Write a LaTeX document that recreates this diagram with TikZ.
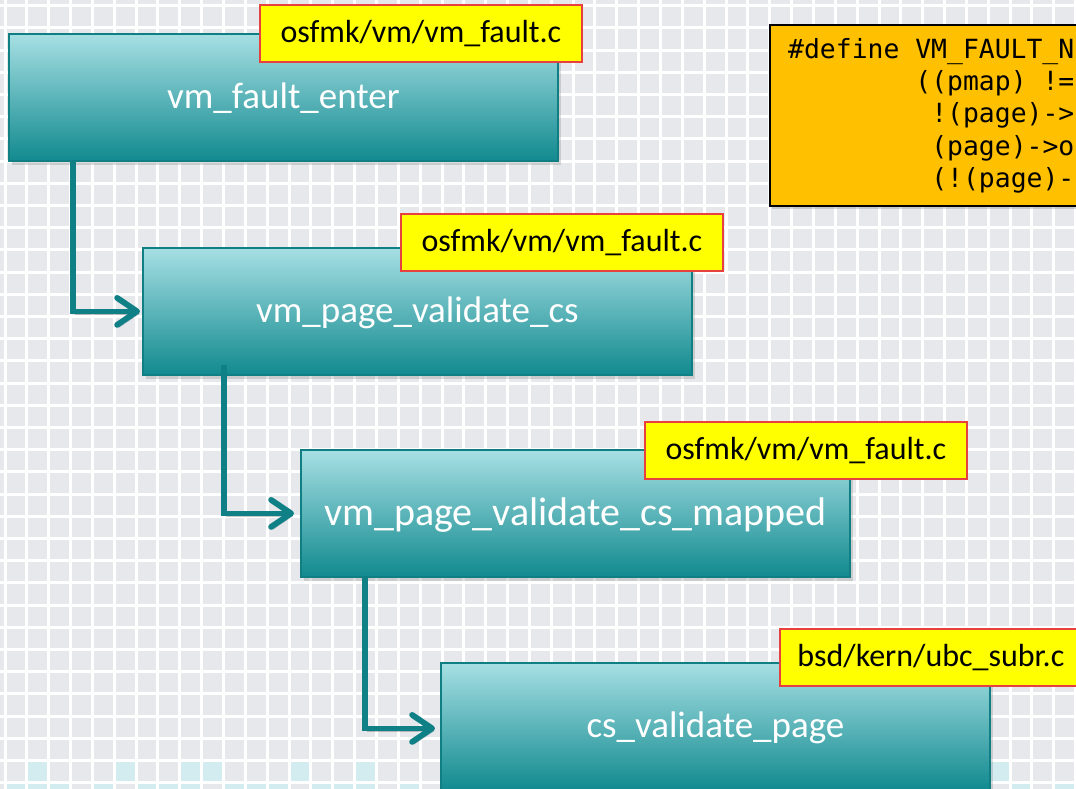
\documentclass[tikz,border=0pt]{standalone}
\usepackage{fontspec}
\setmainfont{Carlito}
\newfontfamily\codefont{DejaVu Sans Mono}
\usetikzlibrary{arrows.meta,shadows}

\definecolor{cellgray}{HTML}{E7E8EC}
\definecolor{cellcyan}{HTML}{D3ECF0}
\definecolor{tealtop}{HTML}{A6DFE3}
\definecolor{tealmid}{HTML}{76BEC2}
\definecolor{tealbot}{HTML}{118A8F}
\definecolor{tealedge}{HTML}{0F7F84}
\definecolor{tealline}{HTML}{0E8086}
\definecolor{tagyellow}{HTML}{FFFF00}
\definecolor{tagred}{HTML}{E8403F}
\definecolor{codeorange}{HTML}{FFC000}

\tikzset{
  fnbox/.style={
    draw=tealedge, line width=1.8pt,
    top color=tealtop, middle color=tealmid, bottom color=tealbot,
    minimum width=549pt, minimum height=127pt, inner sep=0pt,
    text height=30pt, text depth=7pt,
    anchor=north west, text=white,
    font=\fontsize{37}{44}\selectfont,
    drop shadow={opacity=0.28, shadow xshift=3pt, shadow yshift=-4pt}
  },
  srctag/.style={
    draw=tagred, line width=1.8pt, fill=tagyellow,
    minimum width=322pt, minimum height=57pt, inner sep=0pt,
    anchor=north west, text=black,
    font=\fontsize{32}{38}\selectfont
  },
  conn/.style={
    draw=tealline, line width=5.8pt,
    -{Straight Barb[length=20pt,width=27pt,round]},
    preaction={draw=black, opacity=0.22,
      transform canvas={xshift=2pt,yshift=-2.5pt}}
  },
  codeline/.style={anchor=base west, inner sep=0pt,
    font=\codefont\fontsize{26.4}{32}\selectfont}
}

\begin{document}
\begin{tikzpicture}[x=1pt,y=-1pt]
\useasboundingbox (0,0) rectangle (1076,789);
\clip (0,0) rectangle (1076,789);

% tiled background
\fill[cellgray] (0,0) rectangle (1076,789);
\foreach \c/\r in {1/34,5/34,8/34,9/34,13/34,16/34,45/34,
                   0/35,1/35,2/35,4/35,6/35,7/35,8/35,10/35,11/35,12/35,
                   14/35,15/35,16/35,18/35,46/35,48/35}
  \fill[cellcyan] ({5+21.85*\c},{5.7+22.2*\r}) rectangle ({5+21.85*(\c+1)},{5.7+22.2*(\r+1)});
\foreach \k in {0,...,49}
  \draw[white, line width=3pt] ({5+21.85*\k},0) -- ({5+21.85*\k},789);
\foreach \k in {0,...,35}
  \draw[white, line width=3pt] (0,{5.7+22.2*\k}) -- (1076,{5.7+22.2*\k});

% call chain
\node[fnbox] (b1) at (8,33) {vm\_fault\_enter};
\node[srctag] (t1) at (259,4) {osfmk/vm/vm\_fault.c};

\node[fnbox] (b2) at (142,247) {vm\_page\_validate\_cs};
\node[srctag] (t2) at (400,213) {osfmk/vm/vm\_fault.c};
\draw[conn] ([xshift=65pt]b1.south west) |- ([xshift=-2pt]b2.west);

\node[fnbox, font=\fontsize{40}{48}\selectfont, text height=31pt, text depth=7pt]
  (b3) at (300,449) {vm\_page\_validate\_cs\_mapped};
\node[srctag] (t3) at (644,421) {osfmk/vm/vm\_fault.c};
\draw[conn] ([xshift=82pt,yshift=11pt]b2.south west) |- ([xshift=-6pt]b3.west);

\node[fnbox] (b4) at (440,662) {cs\_validate\_page};
\node[srctag, minimum width=302pt] (t4) at (779,628) {bsd/kern/ubc\_subr.c};
\draw[conn] ([xshift=65pt]b3.south west) |- ([xshift=-5pt,yshift=-2pt]b4.west);

% macro definition
\node[draw=black, line width=1.8pt, fill=codeorange, anchor=north west,
      minimum width=340pt, minimum height=181pt, inner sep=0pt,
      drop shadow={opacity=0.3, shadow xshift=2pt, shadow yshift=-3pt}]
      (def) at (769,24) {};
\node[codeline] (c1) at (788,59) {\#define VM\_FAULT\_N};
\node[codeline] (c2) at (915.2,91) {((pmap) !=};
\node[codeline] (c3) at (931.1,123) {!(page)->};
\node[codeline] (c4) at (931.1,155) {(page)->o};
\node[codeline] (c5) at (931.1,187) {(!(page)-};
\end{tikzpicture}
\end{document}
